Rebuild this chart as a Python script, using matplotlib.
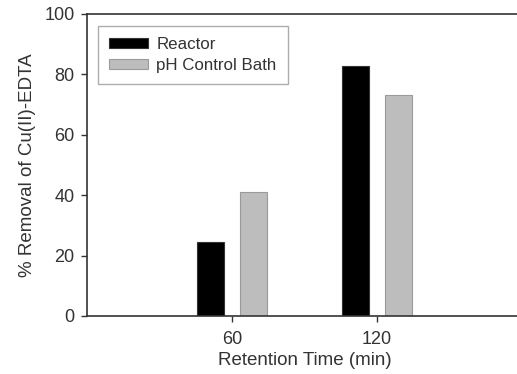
import matplotlib
matplotlib.use("Agg")
import matplotlib.pyplot as plt
import numpy as np

plt.rcParams['font.family'] = ['Liberation Sans', 'DejaVu Sans']

categories = ["60", "120"]
reactor = [24.5, 82.8]
ph_bath = [41.1, 73.2]
series_names = ["Reactor", "pH Control Bath"]

fig = plt.figure(figsize=(5.17, 3.74), dpi=100)
W, H = 517, 374
ax = fig.add_axes([87 / W, 1 - 316 / H, 435 / W, 302 / H])

x = np.arange(len(categories))
bw = 0.18
off = 0.148
ax.bar(x - off, reactor, bw, color="black", edgecolor="#333333", linewidth=0.8, label=series_names[0])
ax.bar(x + off, ph_bath, bw, color="#bdbdbd", edgecolor="#9a9a9a", linewidth=0.8, label=series_names[1])

ax.set_xlim(-1, 2)
ax.set_ylim(0, 100)
ax.set_xticks(x)
ax.set_xticklabels(categories)
ax.set_yticks(np.arange(0, 101, 20))

for s in ax.spines.values():
    s.set_color("#333333")
    s.set_linewidth(1.2)
ax.tick_params(axis="both", direction="out", length=4, width=1, color="#333333",
               labelsize=13, labelcolor="#333333")
ax.tick_params(axis="x", pad=7)
ax.tick_params(axis="y", pad=5)

ax.set_xlabel("Retention Time (min)", fontsize=13.5, color="#333333", labelpad=3)
ax.set_ylabel("% Removal of Cu(II)-EDTA", fontsize=13.5, color="#333333", labelpad=6)

leg = ax.legend(loc="upper left", bbox_to_anchor=(11 / 435, 1 - 12 / 302), frameon=True,
                fancybox=False, edgecolor="#999999", fontsize=12.2, handlelength=2.3,
                handleheight=0.55, handletextpad=0.5, borderpad=0.65, labelspacing=0.35,
                borderaxespad=0)
for t in leg.get_texts():
    t.set_color("#333333")

fig.savefig("out.png", dpi=100)
